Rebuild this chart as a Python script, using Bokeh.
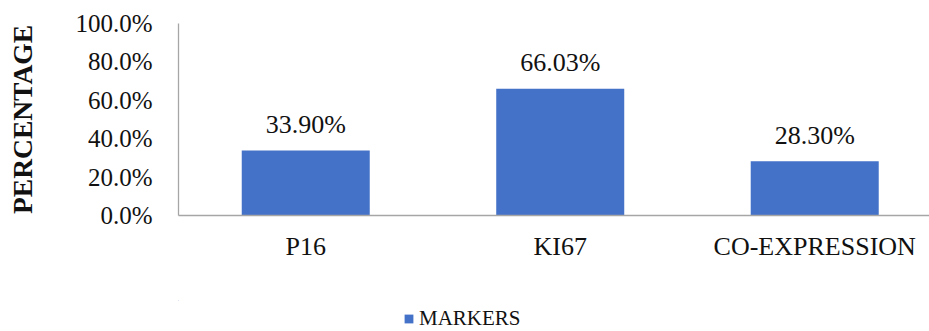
from bokeh.plotting import figure
from bokeh.layouts import column
from bokeh.models import (Range1d, FixedTicker, PrintfTickFormatter, LabelSet,
                          ColumnDataSource, Legend, LegendItem)
from bokeh.embed import file_html
from bokeh.resources import INLINE

categories = ["P16", "KI67", "CO-EXPRESSION"]
values = [33.90, 66.03, 28.30]
series_name = "MARKERS"
y_ticks = [0, 20, 40, 60, 80, 100]

FONT = "Liberation Serif"
TXT = "#111111"
AXIS = "#A6A6A6"
BAR = "#4472C8"
xs = [i + 0.5 for i in range(len(categories))]
src = ColumnDataSource(dict(x=xs, top=values,
                            lab=[f"{v:.2f}%" for v in values]))

# ---- main chart ----
p = figure(width=929, height=300, output_backend="svg", toolbar_location=None,
           x_range=Range1d(0, 2.951), y_range=Range1d(0, 100),
           min_border_left=178, min_border_right=0, min_border_top=23,
           min_border_bottom=85)
p.outline_line_color = None
p.xgrid.visible = False
p.ygrid.visible = False

p.vbar(x="x", top="top", width=0.503, source=src, fill_color=BAR,
       line_color=None)

labels = LabelSet(x="x", y="top", text="lab", source=src, text_align="center",
                  text_baseline="middle", y_offset=26, text_font=FONT,
                  text_font_size="26px", text_color=TXT)
p.add_layout(labels)

p.xaxis.ticker = FixedTicker(ticks=xs)
p.xaxis.major_label_overrides = {x: c for x, c in zip(xs, categories)}
p.xaxis.major_tick_line_color = None
p.xaxis.minor_tick_line_color = None
p.xaxis.major_tick_out = 0
p.xaxis.major_label_standoff = 16
p.xaxis.axis_line_color = AXIS
p.xaxis.axis_line_width = 1.3
p.xaxis.major_label_text_font = FONT
p.xaxis.major_label_text_font_size = "26px"
p.xaxis.major_label_text_color = TXT

p.yaxis.ticker = FixedTicker(ticks=y_ticks)
p.yaxis.formatter = PrintfTickFormatter(format="%.1f%%")
p.yaxis.major_tick_line_color = None
p.yaxis.minor_tick_line_color = None
p.yaxis.major_tick_out = 0
p.yaxis.major_label_standoff = 26
p.yaxis.axis_line_color = AXIS
p.yaxis.axis_line_width = 1.3
p.yaxis.major_label_text_font = FONT
p.yaxis.major_label_text_font_size = "25px"
p.yaxis.major_label_text_color = TXT
p.yaxis.axis_label = "PERCENTAGE"
p.yaxis.axis_label_text_font = FONT
p.yaxis.axis_label_text_font_style = "bold"
p.yaxis.axis_label_text_font_size = "27.5px"
p.yaxis.axis_label_text_color = TXT
p.yaxis.axis_label_standoff = 34

# ---- legend strip (same series; its bars lie outside the visible ranges) ----
q = figure(width=929, height=31, output_backend="svg", toolbar_location=None,
           x_range=Range1d(20, 21), y_range=Range1d(-30, -29),
           x_axis_location=None, y_axis_location=None,
           min_border_left=178, min_border_right=0, min_border_top=0,
           min_border_bottom=0)
q.outline_line_color = None
q.xgrid.visible = False
q.ygrid.visible = False
rq = q.vbar(x="x", top="top", width=0.503, source=src, fill_color=BAR,
            line_color=None)
legend = Legend(items=[LegendItem(label=series_name, renderers=[rq])],
                location=(225, 0), padding=0, margin=0, spacing=0,
                glyph_width=11, glyph_height=11, label_standoff=5,
                label_text_font=FONT, label_text_font_size="21px",
                label_text_color=TXT, border_line_color=None,
                background_fill_alpha=0)
q.add_layout(legend, "center")

layout = column(p, q, spacing=0)
open("out.html", "w").write(file_html(layout, INLINE))
